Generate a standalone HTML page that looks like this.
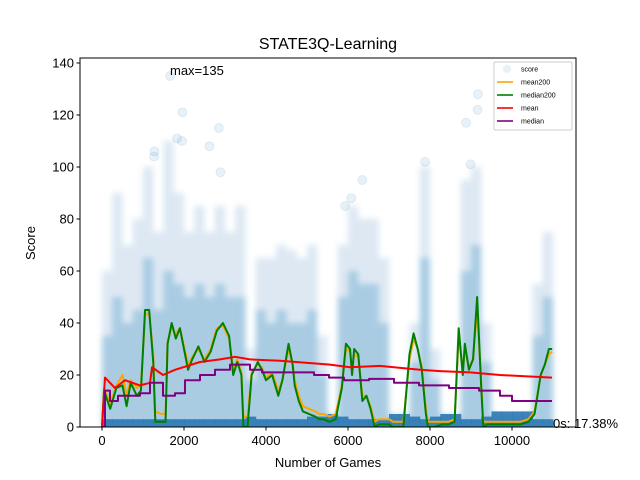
<!DOCTYPE html>
<html><head><meta charset="utf-8"><style>
body{margin:0;background:#fff;}
svg{display:block;font-family:"Liberation Sans","DejaVu Sans",sans-serif;}
</style></head><body>
<svg id="chart" width="640" height="480"></svg>
<script>
// ---- data ----
const binStart = [0,250,500,750,1000,1250,1500,1750,2000,2250,2500,2750,3000,3250,3500,3750,4000,4250,4500,4750,5000,5250,5500,5750,6000,6250,6500,6750,7000,7250,7500,7750,8000,8250,8500,8750,9000,9250,9500,9750,10000,10250,10500,10750];
const cloudTop = [60,90,70,80,100,75,110,90,75,85,75,85,75,85,30,65,65,70,68,65,70,35,5,70,85,80,80,65,5,5,40,100,30,5,5,95,100,40,5,5,5,5,55,75];
const coreTop  = [35,50,40,45,65,45,60,55,50,55,50,55,50,50,18,45,40,45,40,40,45,20,4,50,60,55,55,40,4,4,25,65,18,4,4,60,70,25,4,4,4,4,35,50];
const baseBand = [3,3,3,3,3,3,3,3,3,3,3,3,3,3,4,3,3,3,3,3,4,4,5,4,3,3,3,3,5,5,4,3,4,5,5,3,3,4,6,6,6,6,3,3];
const outliers = [[1660,135],[1960,121],[1830,111],[1950,110],[2620,108],[2850,115],[9170,128],[9160,122],[8880,117],[7880,102],[8990,101],[2890,98],[1280,106],[1270,104],[6350,95],[5930,85],[6080,88]];
const meanX = [0,73,317,561,927,1171,1220,1488,1780,2390,2878,3244,3610,4341,5561,6049,6780,7756,8244,8976,9707,10976];
const meanY = [0,19,15,18,16,17,23,20,22,25,26,27,26,25.5,24,23,23.5,22,21.5,21,20,19];
const medX = [0,73,195,390,683,927,1171,1488,1780,2024,2390,2756,3122,3488,3610,3902,4683,5171,5537,5902,6512,7122,7732,8464,9195,9707,10000,10976];
const medY = [0,14,10,12,12,13,17,12,13,18,20,22,24,24,22,21,21,20,19,18,18.5,17,16,15,14,12,10,10];
const m200X = [0,50,200,350,500,600,700,850,950,1050,1150,1250,1300,1450,1550,1600,1700,1800,1900,2000,2100,2200,2350,2500,2650,2800,2950,3100,3200,3300,3400,3450,3550,3650,3800,3900,4000,4150,4300,4400,4550,4650,4700,4800,4900,5050,5200,5300,5400,5550,5700,5850,5950,6050,6100,6150,6250,6350,6450,6550,6650,6750,6850,7000,7100,7250,7350,7500,7600,7700,7800,7900,7950,8100,8300,8450,8600,8700,8800,8850,8950,9050,9150,9250,9300,9400,9600,9800,10000,10200,10400,10550,10700,10800,10900,10980];
const med200Y = [0,14,7,15,16,8,17,12,14,45,45,25,2,2,2,32,40,34,38,30,22,26,31,25,29,37,40,35,20,25,20,0,0,20,25,22,18,20,12,18,32,24,16,10,6,5,4,3,3,2,3,15,32,30,20,30,28,10,12,7,0,1,1,1,0,0,0,28,36,30,22,5,0,0,1,1,2,38,20,32,22,26,50,15,0,1,1,1,1,1,2,5,20,24,30,30];
const mean200Y = [0,15,9,16,20,12,18,15,16,43,44,28,6,5,5,33,38,36,38,31,24,27,30,26,30,38,39,34,22,26,21,4,4,21,24,23,19,21,14,18,30,24,18,12,8,7,6,5,5,4,5,16,30,29,22,28,27,12,12,8,2,3,3,3,2,2,2,26,34,30,23,7,2,2,2,2,3,35,22,30,23,26,45,17,2,2,2,2,2,2,3,6,20,24,28,29];
const xTicks = [0,2000,4000,6000,8000,10000];
const yTicks = [0,20,40,60,80,100,120,140];

// ---- axes ----
const L=80,R=576,T=58,B=427;
const sx = g => 102 + g*0.041;
const sy = v => 427 - v*2.6;
const NS="http://www.w3.org/2000/svg";
const svg=document.getElementById('chart');
function mk(tag,attrs,parent){const e=document.createElementNS(NS,tag);for(const k in attrs)e.setAttribute(k,attrs[k]);(parent||svg).appendChild(e);return e;}
const defs=mk('defs',{});
const clip=mk('clipPath',{id:'pc'},defs);mk('rect',{x:L,y:T,width:R-L,height:B-T},clip);
const flt=mk('filter',{id:'blur',x:'-10%',y:'-10%',width:'120%',height:'120%'},defs);
mk('feGaussianBlur',{stdDeviation:3},flt);
const plot=mk('g',{'clip-path':'url(#pc)'});


const cloud=mk('g',{filter:'url(#blur)'},plot);



binStart.forEach((b,i)=>{
  const x0=sx(b),w=250*0.041;
  const r1=mk('rect',{x:x0,y:sy(cloudTop[i]),width:w,height:sy(0)-sy(cloudTop[i]),fill:'#1f77b4','fill-opacity':0.16},cloud);
  
  
  const r2=mk('rect',{x:x0,y:sy(coreTop[i]),width:w,height:sy(0)-sy(coreTop[i]),fill:'#1f77b4','fill-opacity':0.26},cloud);
  
  
});
binStart.forEach((b,i)=>{
  const r3=mk('rect',{x:sx(b),y:sy(baseBand[i]),width:250*0.041+0.5,height:sy(0)-sy(baseBand[i])+3,fill:'#2a78b4','fill-opacity':0.9},plot);
  
  
});
outliers.forEach(p=>{
  const c=mk('circle',{cx:sx(p[0]),cy:sy(p[1]),r:4.5,fill:'#1f77b4','fill-opacity':0.1,stroke:'#1f77b4','stroke-opacity':0.1},plot);
  
  
});
function line(xs,ys,color,name,step){
  let d='';
  xs.forEach((x,i)=>{
    if(i===0){d+='M'+sx(x)+','+sy(ys[i]);return;}
    if(step)d+='L'+sx(x)+','+sy(ys[i-1]);
    d+='L'+sx(x)+','+sy(ys[i]);
  });
  const p=mk('path',{d:d,fill:'none',stroke:color,'stroke-width':2,'stroke-linejoin':'round'},plot);
  
  
}
line(m200X,mean200Y,'orange','mean200-line');
line(m200X,med200Y,'green','median200-line');
line(meanX,meanY,'red','mean-line');
line(medX,medY,'purple','median-line',true);

const fr=mk('rect',{x:L,y:T,width:R-L,height:B-T,fill:'none',stroke:'#000','stroke-width':1});


xTicks.forEach(t=>{
  mk('line',{x1:sx(t),x2:sx(t),y1:B,y2:B+3.5,stroke:'#000'});
  const tx=mk('text',{x:sx(t),y:B+18,'text-anchor':'middle','font-size':13});
  tx.textContent=t;
  
  
});
yTicks.forEach(t=>{
  mk('line',{x1:L-3.5,x2:L,y1:sy(t),y2:sy(t),stroke:'#000'});
  const tx=mk('text',{x:L-6,y:sy(t)+4.5,'text-anchor':'end','font-size':13});
  tx.textContent=t;
  
  
});
</script>
<svg style="position:absolute;left:0;top:0" width="640" height="480">
<text x="328" y="49" text-anchor="middle" font-size="16" font-family="Liberation Sans,sans-serif">STATE3Q-Learning</text>
<text x="328" y="467" text-anchor="middle" font-size="13" font-family="Liberation Sans,sans-serif">Number of Games</text>
<text x="35" y="243" text-anchor="middle" font-size="13" font-family="Liberation Sans,sans-serif" transform="rotate(-90 35 243)">Score</text>
<text x="170" y="75" font-size="13" font-family="Liberation Sans,sans-serif">max=135</text>
<text x="553" y="428" font-size="13" font-family="Liberation Sans,sans-serif">0s: 17.38%</text>
<g font-family="Liberation Sans,sans-serif" font-size="7">
<rect x="494" y="62" width="78" height="68" fill="#fff" fill-opacity="0.8" stroke="#ccc" rx="1.5"/>
<circle cx="507" cy="69" r="4" fill="#1f77b4" fill-opacity="0.1"/><text x="521" y="71.5">score</text>
<line x1="497" x2="513" y1="82" y2="82" stroke="orange" stroke-width="1.6"/><text x="521" y="84.5">mean200</text>
<line x1="497" x2="513" y1="95" y2="95" stroke="green" stroke-width="1.6"/><text x="521" y="97.5">median200</text>
<line x1="497" x2="513" y1="108" y2="108" stroke="red" stroke-width="1.6"/><text x="521" y="110.5">mean</text>
<line x1="497" x2="513" y1="121" y2="121" stroke="purple" stroke-width="1.6"/><text x="521" y="123.5">median</text>
</g>
</svg>
</body></html>
